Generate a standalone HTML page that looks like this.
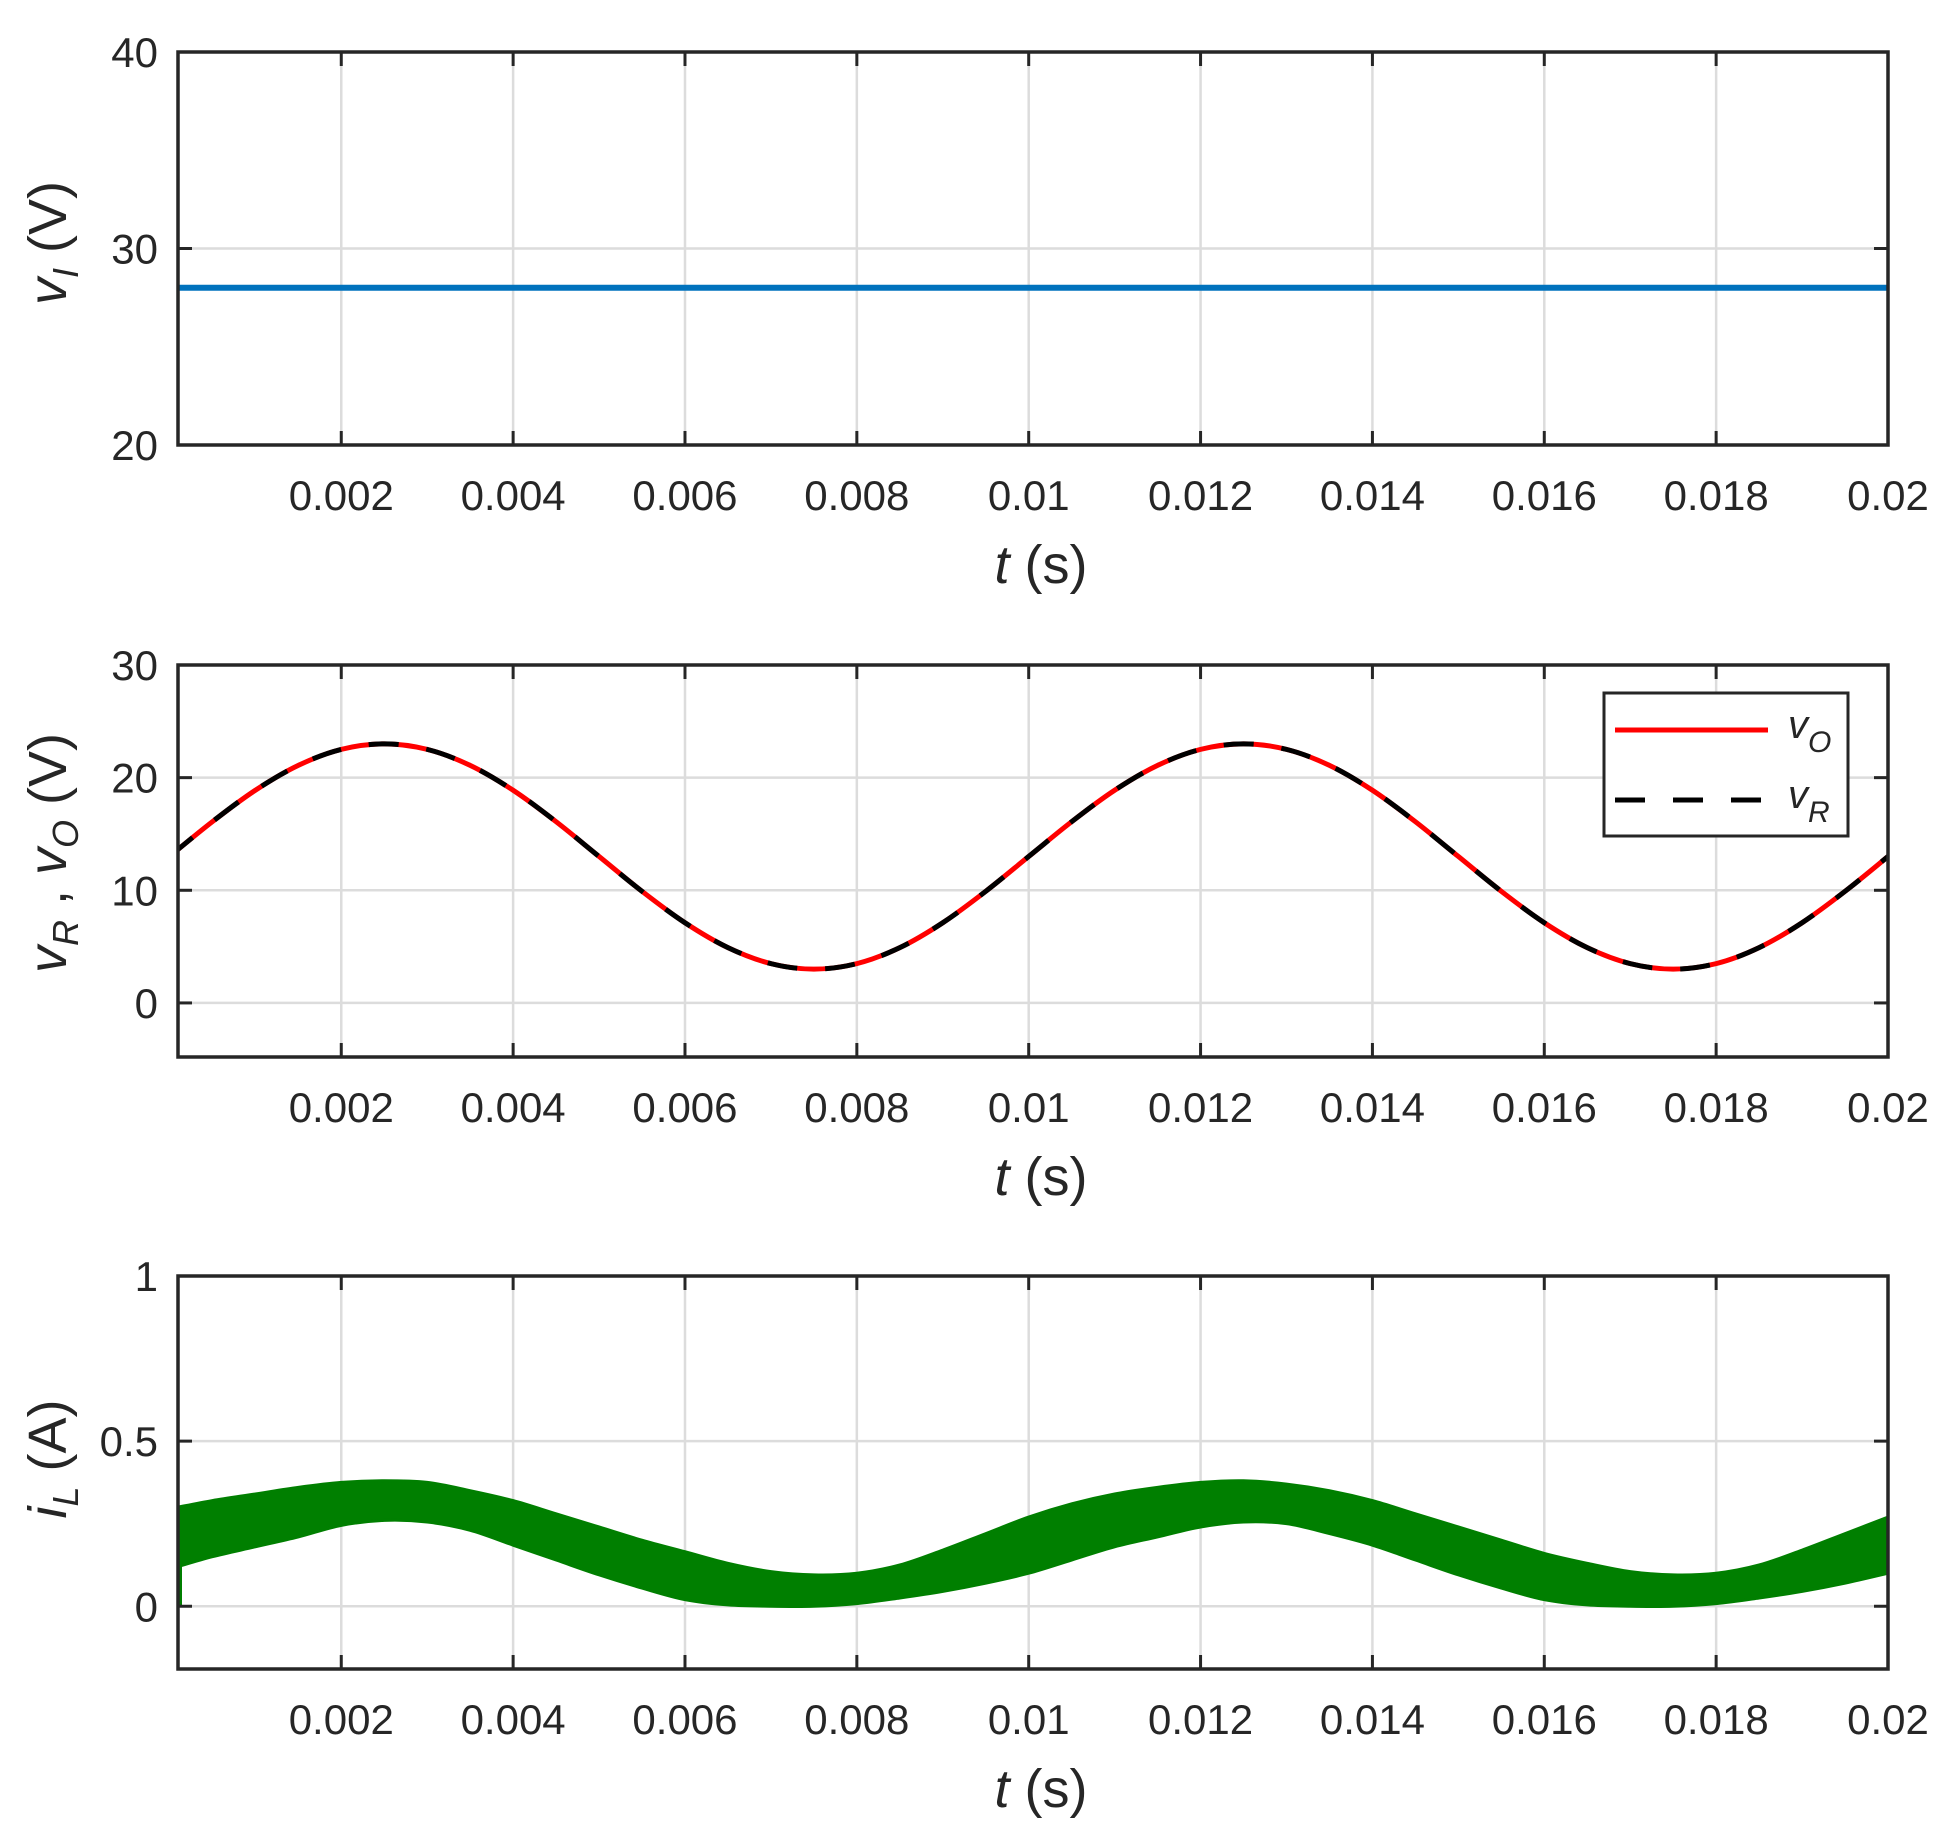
<!DOCTYPE html>
<html><head><meta charset="utf-8">
<style>
html,body{margin:0;padding:0;background:#fff;}
svg{display:block;font-family:"Liberation Sans",Arial,sans-serif;}
</style></head>
<body>
<svg id="fig" width="1956" height="1836" viewBox="0 0 1956 1836" xmlns="http://www.w3.org/2000/svg"></svg>
<script>
// ---- data ----
const xTicks = [0.002,0.004,0.006,0.008,0.01,0.012,0.014,0.016,0.018,0.02];
const xTickLabels = ["0.002","0.004","0.006","0.008","0.01","0.012","0.014","0.016","0.018","0.02"];
const vITimes = [0.0001, 0.02];
const vIValues = [28, 28];
const p1Ticks = [20,30,40];
const p2Ticks = [0,10,20,30];
const p3Ticks = [0,0.5,1];
const p3TickLabels = ["0","0.5","1"];
const vTimes = [0,0.0005,0.001,0.0015,0.002,0.0025,0.003,0.0035,0.004,0.0045,0.005,0.0055,0.006,0.0065,0.007,0.0075,0.008,0.0085,0.009,0.0095,0.01,0.0105,0.011,0.0115,0.012,0.0125,0.013,0.0135,0.014,0.0145,0.015,0.0155,0.016,0.0165,0.017,0.0175,0.018,0.0185,0.019,0.0195,0.02];
const vOValues = [13,16.09,18.88,21.09,22.51,23,22.51,21.09,18.88,16.09,13,9.91,7.12,4.91,3.49,3,3.49,4.91,7.12,9.91,13,16.09,18.88,21.09,22.51,23,22.51,21.09,18.88,16.09,13,9.91,7.12,4.91,3.49,3,3.49,4.91,7.12,9.91,13];
const vRValues = [13,16.09,18.88,21.09,22.51,23,22.51,21.09,18.88,16.09,13,9.91,7.12,4.91,3.49,3,3.49,4.91,7.12,9.91,13,16.09,18.88,21.09,22.51,23,22.51,21.09,18.88,16.09,13,9.91,7.12,4.91,3.49,3,3.49,4.91,7.12,9.91,13];
const iLUpper = [0.30,0.32,0.34,0.36,0.375,0.38,0.375,0.35,0.32,0.28,0.24,0.20,0.165,0.13,0.105,0.095,0.10,0.125,0.17,0.22,0.27,0.31,0.34,0.36,0.375,0.38,0.37,0.35,0.32,0.28,0.24,0.20,0.16,0.13,0.105,0.095,0.10,0.125,0.17,0.22,0.27];
const iLLower = [0.12,0.15,0.18,0.21,0.245,0.26,0.255,0.23,0.185,0.14,0.095,0.055,0.02,0.004,0.0,0.0,0.008,0.025,0.045,0.07,0.10,0.14,0.18,0.21,0.24,0.255,0.25,0.22,0.185,0.14,0.095,0.055,0.02,0.004,0.0,0.0,0.008,0.025,0.045,0.07,0.10];

// ---- layout ----
const NS="http://www.w3.org/2000/svg";
const svg=document.getElementById('fig');
const L=178,R=1888,XMIN=0.0001,XMAX=0.02;
function xs(t){return L+(t-XMIN)/(XMAX-XMIN)*(R-L);}
function mk(tag,attrs,parent){const e=document.createElementNS(NS,tag);for(const k in attrs)e.setAttribute(k,attrs[k]);(parent||svg).appendChild(e);return e;}
function smooth(pts){let d="M"+pts[0][0]+","+pts[0][1];for(let i=0;i<pts.length-1;i++){const p0=pts[Math.max(0,i-1)],p1=pts[i],p2=pts[i+1],p3=pts[Math.min(pts.length-1,i+2)];const c1x=p1[0]+(p2[0]-p0[0])/6,c1y=p1[1]+(p2[1]-p0[1])/6,c2x=p2[0]-(p3[0]-p1[0])/6,c2y=p2[1]-(p3[1]-p1[1])/6;d+=" C"+c1x+","+c1y+" "+c2x+","+c2y+" "+p2[0]+","+p2[1];}return d;}

function panel(name,top,bot,ymin,ymax,yt,ytl){
  const g=mk('g',{});
  
  
  const ys=v=>bot-(v-ymin)/(ymax-ymin)*(bot-top);
  const clipId='clip-'+name;
  const cp=mk('clipPath',{id:clipId},g);mk('rect',{x:L,y:top,width:R-L,height:bot-top},cp);
  xTicks.forEach((t,i)=>{const x=xs(t);
    const gl=mk('line',{x1:x,x2:x,y1:top,y2:bot,stroke:'#dcdcdc','stroke-width':2.5},g);
    });
  yt.forEach(v=>{const y=ys(v);
    const gl=mk('line',{x1:L,x2:R,y1:y,y2:y,stroke:'#dcdcdc','stroke-width':2.5},g);
    });
  const series=mk('g',{'clip-path':'url(#'+clipId+')'},g);
  
  xTicks.forEach((t,i)=>{const x=xs(t);
    mk('line',{x1:x,x2:x,y1:bot,y2:bot-14,stroke:'#262626','stroke-width':3},g);
    mk('line',{x1:x,x2:x,y1:top,y2:top+14,stroke:'#262626','stroke-width':3},g);
    const tx=mk('text',{x:x,y:bot+65,'text-anchor':'middle','font-size':42,fill:'#262626'},g);
    tx.textContent=xTickLabels[i];
    });
  yt.forEach((v,i)=>{const y=ys(v);
    mk('line',{x1:L,x2:L+14,y1:y,y2:y,stroke:'#262626','stroke-width':3},g);
    mk('line',{x1:R,x2:R-14,y1:y,y2:y,stroke:'#262626','stroke-width':3},g);
    const tx=mk('text',{x:158,y:y+15,'text-anchor':'end','font-size':42,fill:'#262626'},g);
    tx.textContent=ytl[i];
    });
  const box=mk('rect',{x:L,y:top,width:R-L,height:bot-top,fill:'none',stroke:'#262626','stroke-width':3.5},g);
  
  const xl=mk('text',{x:1041,y:bot+138,'text-anchor':'middle','font-size':54,fill:'#262626'},g);
  xl.innerHTML='<tspan font-style="italic">t</tspan> (s)';
  
  return {g,series,ys};
}

// Panel 1
const P1=panel('panel-vi',52,445,20,40,p1Ticks,p1Ticks.map(String));
const l1=mk('path',{d:'M'+vITimes.map((t,i)=>xs(t)+','+P1.ys(vIValues[i])).join(' L'),fill:'none',stroke:'#0072BD','stroke-width':6},P1.series);

const yl1=mk('text',{transform:'translate(66,243) rotate(-90)','text-anchor':'middle','font-size':54,fill:'#262626'},P1.g);
yl1.innerHTML='<tspan font-style="italic">v</tspan><tspan font-style="italic" font-size="36" dy="12">I</tspan><tspan dy="-12"> (V)</tspan>';


// Panel 2
const P2=panel('panel-vo-vr',665,1057,-4.8,30,p2Ticks,p2Ticks.map(String));
const ptsO=vTimes.map((t,i)=>[xs(t),P2.ys(vOValues[i])]);
const ptsR=vTimes.map((t,i)=>[xs(t),P2.ys(vRValues[i])]);
const lo=mk('path',{d:smooth(ptsO),fill:'none',stroke:'#ff0000','stroke-width':5},P2.series);

const lr=mk('path',{d:smooth(ptsR),fill:'none',stroke:'#000','stroke-width':5,'stroke-dasharray':'30 28'},P2.series);

const yl2=mk('text',{transform:'translate(66,853) rotate(-90)','text-anchor':'middle','font-size':54,fill:'#262626'},P2.g);
yl2.innerHTML='<tspan font-style="italic">v</tspan><tspan font-style="italic" font-size="36" dy="12">R</tspan><tspan dy="-12"> ,  </tspan><tspan font-style="italic">v</tspan><tspan font-style="italic" font-size="36" dy="12">O</tspan><tspan dy="-12"> (V)</tspan>';

const lg=mk('g',{},P2.g);

mk('rect',{x:1604,y:693,width:244,height:143,fill:'#fff',stroke:'#262626','stroke-width':3},lg);
const le1=mk('line',{x1:1615,x2:1768,y1:730,y2:730,stroke:'#ff0000','stroke-width':5},lg);

const le2=mk('line',{x1:1615,x2:1768,y1:800,y2:800,stroke:'#000','stroke-width':5,'stroke-dasharray':'30 28'},lg);

const lt1=mk('text',{x:1788,y:738,'font-size':40,fill:'#262626'},lg);
lt1.innerHTML='<tspan font-style="italic">v</tspan><tspan font-style="italic" font-size="30" dy="14">O</tspan>';

const lt2=mk('text',{x:1788,y:808,'font-size':40,fill:'#262626'},lg);
lt2.innerHTML='<tspan font-style="italic">v</tspan><tspan font-style="italic" font-size="30" dy="14">R</tspan>';


// Panel 3
const P3=panel('panel-il',1276,1669,-0.19,1,p3Ticks,p3TickLabels);
const up=vTimes.map((t,i)=>[Math.max(xs(t),L),P3.ys(iLUpper[i])]);
const lo3=vTimes.map((t,i)=>[Math.max(xs(t),L),P3.ys(iLLower[i])]).reverse();
let dBand=smooth(up)+" L"+lo3[0][0]+","+lo3[0][1]+" "+smooth(lo3).slice(1).replace(/^[^C]*/,'')+" Z";
const band=mk('path',{d:dBand,fill:'#007F00',stroke:'#007F00','stroke-width':3},P3.series);

const spike=mk('line',{x1:L+2,x2:L+2,y1:P3.ys(iLUpper[0]),y2:P3.ys(0),stroke:'#007F00','stroke-width':4},P3.series);

const yl3=mk('text',{transform:'translate(66,1459) rotate(-90)','text-anchor':'middle','font-size':54,fill:'#262626'},P3.g);
yl3.innerHTML='<tspan font-style="italic">i</tspan><tspan font-style="italic" font-size="36" dy="12">L</tspan><tspan dy="-12"> (A)</tspan>';

</script>
</body></html>
